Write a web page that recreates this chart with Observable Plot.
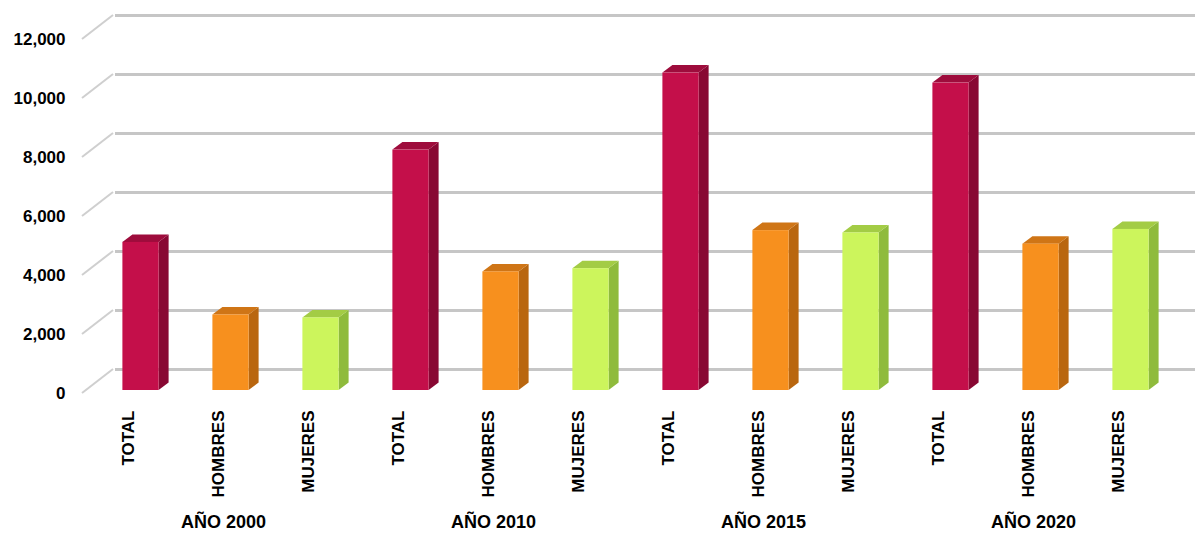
<!DOCTYPE html>
<html>
<head>
<meta charset="utf-8">
<script src="https://cdn.jsdelivr.net/npm/d3@7"></script>
<script src="https://cdn.jsdelivr.net/npm/@observablehq/plot@0.6"></script>
<style>
  html, body { margin: 0; padding: 0; background: #fff; }
  #chart svg { display: block; }
</style>
</head>
<body>
<div id="chart"></div>
<script>
// ---- data ----
const years = ["AÑO 2000", "AÑO 2010", "AÑO 2015", "AÑO 2020"];
const groups = ["TOTAL", "HOMBRES", "MUJERES"];
const total   = [5020, 8150, 10760, 10420];
const hombres = [2560, 4020, 5420, 4960];
const mujeres = [2460, 4130, 5340, 5460];
const yTicks  = [0, 2000, 4000, 6000, 8000, 10000, 12000];

const palette = {
  TOTAL:   {front: "#c40f4a", side: "#880833", top: "#9e0c3c"},
  HOMBRES: {front: "#f7901e", side: "#b9660f", top: "#cf7516"},
  MUJERES: {front: "#ccf55c", side: "#8fbb3c", top: "#a3cc45"}
};

const series = {TOTAL: total, HOMBRES: hombres, MUJERES: mujeres};
const data = years.flatMap((yr, i) => groups.map(g => ({
  year: yr, group: g, key: yr + "|" + g, value: series[g][i]
})));
const keys = data.map(d => d.key);

// geometry of the pseudo-3D look (pixels)
const INSET = 26.9, SHIFT = 7.5, LIFT = -3, DEPTH_X = 10, DEPTH_Y = -7.5;

function depthFaces(index, scales) {
  const x = scales.x, y = scales.y;
  const bw = x.bandwidth();
  const g = d3.create("svg:g");
  for (const d of data) {
    const x0 = x(d.key);
    const xl = x0 + INSET + SHIFT, xr = x0 + bw - INSET + SHIFT;
    const yb = y(0) + LIFT, yt = y(d.value) + LIFT;
    const c = palette[d.group];
    g.append("path")
      .attr("d", `M${xr},${yb}L${xr + DEPTH_X},${yb + DEPTH_Y}L${xr + DEPTH_X},${yt + DEPTH_Y}L${xr},${yt}Z`)
      .attr("fill", c.side);
    g.append("path")
      .attr("d", `M${xl},${yt}L${xl + DEPTH_X},${yt + DEPTH_Y}L${xr + DEPTH_X},${yt + DEPTH_Y}L${xr},${yt}Z`)
      .attr("fill", c.top);
  }
  return g.node();
}

function diagonals(index, scales) {
  const x = scales.x, y = scales.y;
  const x0 = x.range()[0];
  const g = d3.create("svg:g");
  for (const v of yTicks) {
    g.append("line")
      .attr("x1", x0 - 2).attr("y1", y(v))
      .attr("x2", x0 + 29).attr("y2", y(v) - 24)
      .attr("stroke", "#cfcfcf").attr("stroke-width", 2);
  }
  return g.node();
}

const chart = Plot.plot({
  width: 1195,
  height: 538,
  marginLeft: 84,
  marginRight: 23,
  marginTop: 39,
  marginBottom: 145,
  style: {fontFamily: "'Liberation Sans', Arial, sans-serif", background: "#fff", color: "#000"},
  x: {type: "band", domain: keys, padding: 0, axis: null},
  y: {domain: [0, 12000], axis: null},
  color: {type: "identity"},
  marks: [
    Plot.ruleY(yTicks, {dx: 31, dy: -24, stroke: "#c6c6c6", strokeWidth: 3}),
    diagonals,
    depthFaces,
    Plot.barY(data, {x: "key", y: "value", fill: d => palette[d.group].front,
      insetLeft: INSET, insetRight: INSET, dx: SHIFT, dy: LIFT}),
    Plot.text(yTicks, {y: d => d, text: d => d3.format(",")(d), frameAnchor: "left",
      dx: -19, textAnchor: "end", fontSize: 17, fontWeight: "bold", fill: "#000"}),
    Plot.text(data, {x: "key", text: "group", frameAnchor: "bottom", dy: 17,
      rotate: -90, textAnchor: "end", fontSize: 17, fontWeight: "bold", fill: "#000"}),
    Plot.text(years, {x: d => d + "|HOMBRES", text: d => d, frameAnchor: "bottom", dy: 134,
      fontSize: 18, fontWeight: "bold", fill: "#000"})
  ]
});
document.getElementById("chart").appendChild(chart);
</script>
</body>
</html>
